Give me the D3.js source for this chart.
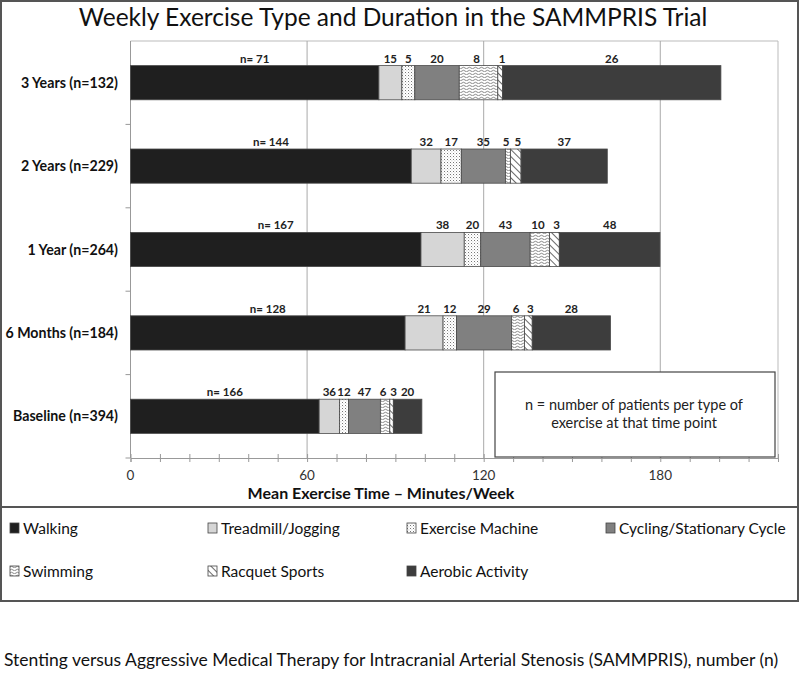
<!DOCTYPE html>
<html>
<head>
<meta charset="utf-8">
<script src="https://cdn.jsdelivr.net/npm/d3@7"></script>
<style>
  body { margin: 0; background: #fff; }
  svg { display: block; font-family: Lato, "Open Sans", sans-serif; }
</style>
</head>
<body>
<svg id="chart" width="800" height="685"></svg>
<script>
// time points, top to bottom
var categories = ['3 Years (n=132)', '2 Years (n=229)', '1 Year (n=264)', '6 Months (n=184)', 'Baseline (n=394)'];
var seriesNames = ['Walking', 'Treadmill/Jogging', 'Exercise Machine', 'Cycling/Stationary Cycle', 'Swimming', 'Racquet Sports', 'Aerobic Activity'];
var seriesKeys = ['walking', 'treadmill', 'machine', 'cycling', 'swimming', 'racquet', 'aerobic'];

// mean minutes per week
var walkingMin = [84.4, 95.4, 98.7, 93.3, 64.1];
var treadmillMin = [7.8, 10.1, 14.7, 12.9, 6.9];
var machineMin = [4.4, 6.9, 5.6, 4.6, 3.1];
var cyclingMin = [15.1, 15.0, 16.8, 18.7, 10.8];
var swimmingMin = [13.1, 1.7, 6.6, 4.4, 3.2];
var racquetMin = [1.6, 3.6, 3.3, 2.6, 1.2];
var aerobicMin = [74.2, 29.3, 34.2, 26.6, 9.7];

// number of patients per segment
var walkingN = [71, 144, 167, 128, 166];
var treadmillN = [15, 32, 38, 21, 36];
var machineN = [5, 17, 20, 12, 12];
var cyclingN = [20, 35, 43, 29, 47];
var swimmingN = [8, 5, 10, 6, 6];
var racquetN = [1, 5, 3, 3, 3];
var aerobicN = [26, 37, 48, 28, 20];

var xMajorTicks = [0, 60, 120, 180];
var X_MAX = 220;

var minArrays = [walkingMin, treadmillMin, machineMin, cyclingMin, swimmingMin, racquetMin, aerobicMin];
var nArrays = [walkingN, treadmillN, machineN, cyclingN, swimmingN, racquetN, aerobicN];

var rows = categories.map(function (c, i) {
  var r = { group: c };
  seriesKeys.forEach(function (k, j) {
    r[k] = minArrays[j][i];
    r[k + 'N'] = nArrays[j][i];
  });
  return r;
});

var svg = d3.select('#chart');
var defs = svg.append('defs');

// fills
var dots = defs.append('pattern').attr('id', 'p-dots').attr('patternUnits', 'userSpaceOnUse')
  .attr('width', 3).attr('height', 3);
dots.append('rect').attr('width', 3).attr('height', 3).attr('fill', '#fff');
dots.append('rect').attr('x', 0).attr('y', 0).attr('width', 1).attr('height', 1).attr('fill', '#777');
dots.append('rect').attr('x', 1.5).attr('y', 1.5).attr('width', 0.8).attr('height', 0.8).attr('fill', '#aaa');

var waves = defs.append('pattern').attr('id', 'p-waves').attr('patternUnits', 'userSpaceOnUse')
  .attr('width', 6).attr('height', 3);
waves.append('rect').attr('width', 6).attr('height', 3).attr('fill', '#fff');
waves.append('path').attr('d', 'M0 2 Q1.5 0.5 3 2 T6 2').attr('fill', 'none')
  .attr('stroke', '#555').attr('stroke-width', 0.7);

var diag = defs.append('pattern').attr('id', 'p-diag').attr('patternUnits', 'userSpaceOnUse')
  .attr('width', 5).attr('height', 5).attr('patternTransform', 'rotate(-45)');
diag.append('rect').attr('width', 5).attr('height', 5).attr('fill', '#fff');
diag.append('line').attr('x1', 0).attr('y1', 0).attr('x2', 0).attr('y2', 5)
  .attr('stroke', '#444').attr('stroke-width', 1.6);

var fills = {
  walking: '#1f1f1f',
  treadmill: '#d6d6d6',
  machine: 'url(#p-dots)',
  cycling: '#808080',
  swimming: 'url(#p-waves)',
  racquet: 'url(#p-diag)',
  aerobic: '#3d3d3d'
};
// nudge the two thin-segment labels apart so they don't run together
var labelNudge = { swimming: -2, racquet: 2 };

// outer frame + separator between chart and legend
svg.append('rect').attr('x', 1).attr('y', 1).attr('width', 797).attr('height', 600)
  .attr('fill', 'none').attr('stroke', '#555').attr('stroke-width', 2);
svg.append('line').attr('x1', 1).attr('x2', 798).attr('y1', 507).attr('y2', 507)
  .attr('stroke', '#555').attr('stroke-width', 2);

svg.append('text').attr('x', 393).attr('y', 26).attr('text-anchor', 'middle')
  .attr('font-size', 24.5).attr('fill', '#111')
  .text('Weekly Exercise Type and Duration in the SAMMPRIS Trial');

var x = d3.scaleLinear().domain([0, X_MAX]).range([130.5, 778]);
var y = d3.scaleBand().domain(categories).range([41, 458]).paddingInner(0.59).paddingOuter(0.295);
var band = d3.scaleBand().domain(categories).range([41, 458]);

// plot frame (top/right) and gridlines
var plot = svg.append('g');
plot.append('line').attr('x1', x(0)).attr('x2', x(X_MAX)).attr('y1', 41).attr('y2', 41).attr('stroke', '#bbb');
plot.append('line').attr('x1', x(X_MAX)).attr('x2', x(X_MAX)).attr('y1', 41).attr('y2', 458).attr('stroke', '#bbb');
plot.selectAll('.grid').data(xMajorTicks.slice(1)).enter().append('line')
  .attr('x1', function (d) { return x(d); }).attr('x2', function (d) { return x(d); })
  .attr('y1', 41).attr('y2', 458).attr('stroke', '#aaa');

// x axis with minor ticks every 10 min
var xAxis = svg.append('g').attr('transform', 'translate(0,458)')
  .call(d3.axisBottom(x).tickValues(d3.range(0, X_MAX + 1, 10)).tickSize(4).tickFormat(''));
xAxis.select('.domain').attr('stroke', '#999');
xAxis.selectAll('.tick line').attr('stroke', '#999').attr('y1', -4);
svg.append('g').selectAll('text').data(xMajorTicks).enter().append('text')
  .attr('x', function (d) { return x(d); }).attr('y', 480)
  .attr('text-anchor', 'middle').attr('font-size', 13.5).attr('fill', '#333')
  .text(function (d) { return d; });

svg.append('text').attr('x', 381).attr('y', 499).attr('text-anchor', 'middle')
  .attr('font-size', 16).attr('font-weight', 'bold').attr('fill', '#111')
  .text('Mean Exercise Time \u2013 Minutes/Week');

// y axis
var yAxis = svg.append('g').attr('transform', 'translate(' + x(0) + ',0)');
yAxis.append('line').attr('y1', 41).attr('y2', 458).attr('stroke', '#999');
yAxis.selectAll('.yt').data(categories).enter().append('line')
  .attr('x1', -5).attr('x2', 0)
  .attr('y1', function (d) { return band(d) + band.bandwidth(); })
  .attr('y2', function (d) { return band(d) + band.bandwidth(); })
  .attr('stroke', '#999');
svg.append('g').selectAll('text').data(categories).enter().append('text')
  .attr('x', 118).attr('y', function (d) { return y(d) + y.bandwidth() / 2 + 5; })
  .attr('text-anchor', 'end').attr('font-size', 14.2).attr('font-weight', 'bold').attr('fill', '#111')
  .text(function (d) { return d; });

// stacked bars
var stacked = d3.stack().keys(seriesKeys)(rows);
var layers = svg.append('g').selectAll('g').data(stacked).enter().append('g');
layers.selectAll('rect').data(function (d) { return d.map(function (s) { s.key = d.key; return s; }); })
  .enter().append('rect')
  .attr('x', function (d) { return x(d[0]); })
  .attr('y', function (d) { return y(d.data.group); })
  .attr('width', function (d) { return x(d[1]) - x(d[0]); })
  .attr('height', y.bandwidth())
  .attr('fill', function (d) { return fills[d.key]; })
  .attr('stroke', '#4a4a4a').attr('stroke-width', 0.8);

layers.selectAll('text').data(function (d) { return d; }).enter().append('text')
  .attr('x', function (d) { return (x(d[0]) + x(d[1])) / 2 + (labelNudge[d.key] || 0); })
  .attr('y', function (d) { return y(d.data.group) - 3; })
  .attr('text-anchor', 'middle').attr('font-size', 11.5).attr('font-weight', 'bold').attr('fill', '#222')
  .text(function (d) {
    var n = d.data[d.key + 'N'];
    return d.key === 'walking' ? 'n= ' + n : n;
  });

// note box
svg.append('rect').attr('x', 495).attr('y', 372).attr('width', 280).attr('height', 85)
  .attr('fill', '#fff').attr('stroke', '#444').attr('stroke-width', 1.2);
svg.append('text').attr('x', 634).attr('y', 410).attr('text-anchor', 'middle')
  .attr('font-size', 14.5).attr('fill', '#222').text('n = number of patients per type of');
svg.append('text').attr('x', 634).attr('y', 428).attr('text-anchor', 'middle')
  .attr('font-size', 14.5).attr('fill', '#222').text('exercise at that time point');

// legend
var legendX = [10, 208, 407, 606];
var legendY = [528, 571];
var leg = svg.append('g').selectAll('g').data(seriesKeys).enter().append('g')
  .attr('transform', function (d, i) {
    return 'translate(' + legendX[i % 4] + ',' + legendY[Math.floor(i / 4)] + ')';
  });
leg.append('rect').attr('x', 0).attr('y', -5).attr('width', 9).attr('height', 10)
  .attr('fill', function (d) { return fills[d]; }).attr('stroke', '#444').attr('stroke-width', 0.8);
leg.append('text').attr('x', 13).attr('y', 5.5).attr('font-size', 15.5).attr('fill', '#111')
  .text(function (d, i) { return seriesNames[i]; });

svg.append('text').attr('x', 4).attr('y', 666).attr('font-size', 17.5).attr('fill', '#111')
  .text('Stenting versus Aggressive Medical Therapy for Intracranial Arterial Stenosis (SAMMPRIS), number (n)');
</script>
</body>
</html>
